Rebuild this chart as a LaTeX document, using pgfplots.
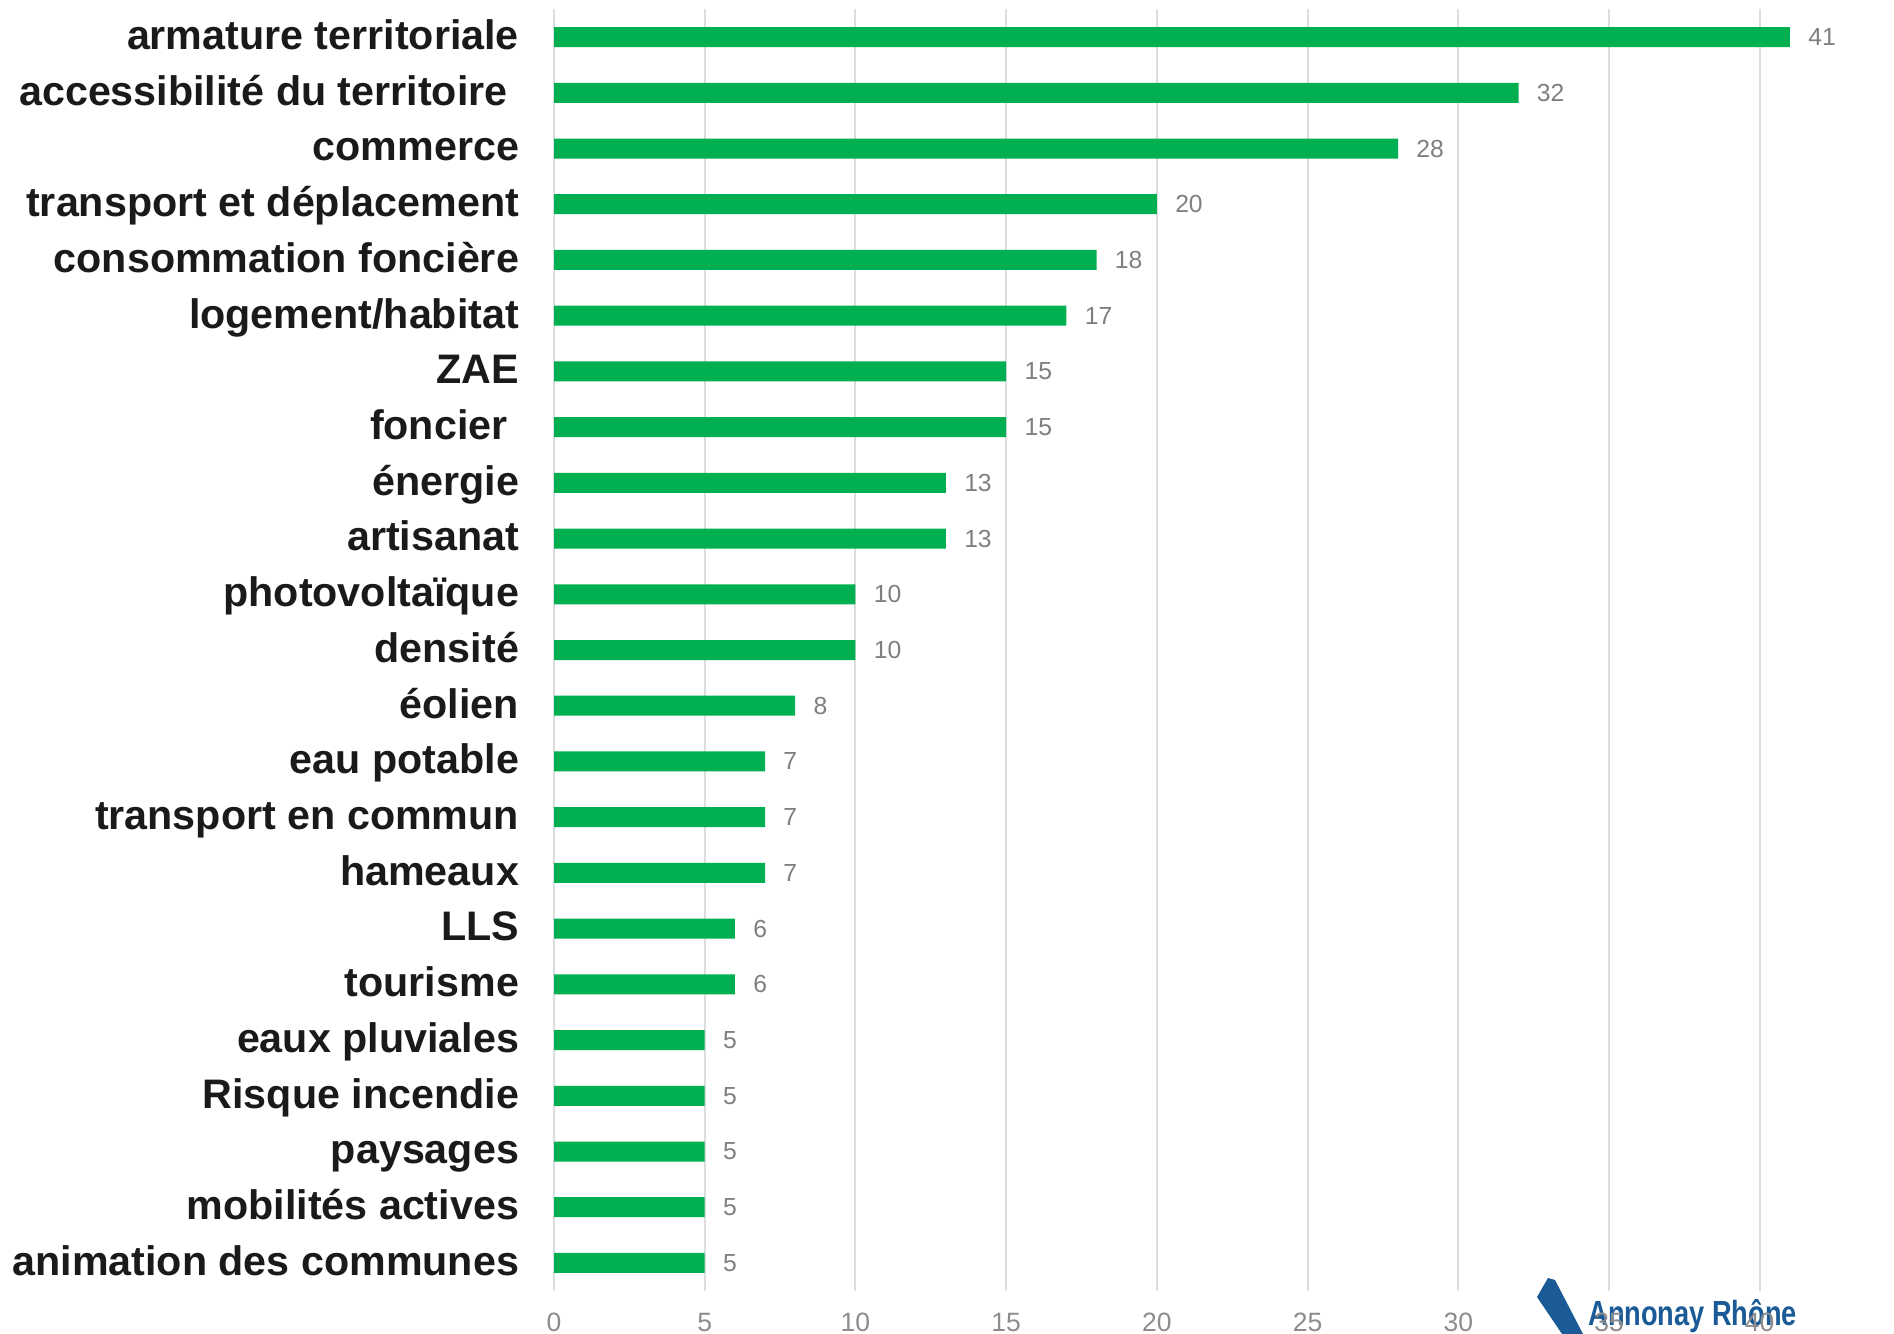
\documentclass[border=0pt]{standalone}
\usepackage{fontspec}
\setmainfont{Liberation Sans}
\usepackage{graphicx}
\usepackage{pgfplots}
\pgfplotsset{compat=1.18}
\usepackage{pgfplotstable}

\definecolor{bargreen}{HTML}{00B050}
\definecolor{labelblack}{HTML}{1A1A1A}
\definecolor{valgray}{HTML}{7F7F7F}
\definecolor{tickgray}{HTML}{8C8C8C}
\definecolor{gridgray}{HTML}{DDDDDD}
\definecolor{logoblue}{HTML}{1A5A96}

% rows from top to bottom
\pgfplotstableread[col sep=comma]{
idx,val
0,41
1,32
2,28
3,20
4,18
5,17
6,15
7,15
8,13
9,13
10,10
11,10
12,8
13,7
14,7
15,7
16,6
17,6
18,5
19,5
20,5
21,5
22,5
}\themes

\begin{document}
\begin{tikzpicture}
  % logo (behind the axis)
  \fill[logoblue] (774bp,28bp) -- (777.5bp,27bp) -- (791.5bp,0bp) -- (781bp,0bp) -- (768.5bp,18.5bp) -- cycle;
  \node[anchor=base west, inner sep=0pt, text=logoblue,
        font=\fontsize{17.5}{19}\selectfont\bfseries] at (794bp,4.5bp)
        {\scalebox{0.78}[1]{Annonay Rhône}};

  \begin{axis}[
    at={(277bp,21.6bp)}, anchor=south west,
    scale only axis,
    width=633bp, height=640.8bp,
    xmin=0, xmax=42,
    ymin=-0.5, ymax=22.5,
    y dir=reverse,
    xbar,
    bar width=10bp,
    axis line style={draw=none},
    major tick length=0pt,
    xmajorgrids=true,
    ymajorgrids=false,
    grid style={draw=gridgray, line width=1bp},
    xtick={0,5,...,40},
    ytick={0,...,22},
    yticklabels={
      armature territoriale,
      accessibilité du territoire\hspace*{0.278em},
      commerce,
      transport et déplacement,
      consommation foncière,
      logement/habitat,
      ZAE,
      foncier\hspace*{0.278em},
      énergie,
      artisanat,
      photovoltaïque,
      densité,
      éolien,
      eau potable,
      transport en commun,
      hameaux,
      LLS,
      tourisme,
      eaux pluviales,
      Risque incendie,
      paysages,
      mobilités actives,
      animation des communes},
    /pgf/number format/assume math mode=true,
    yticklabel style={anchor=east, inner sep=0pt, text=labelblack,
      text height=0.7em, text depth=0pt, yshift=-2.7bp,
      font=\fontsize{20.7}{24}\selectfont\bfseries},
    yticklabel shift=17.3bp,
    xticklabel style={anchor=north, inner sep=0pt, text=tickgray,
      font=\fontsize{13.3}{15}\selectfont},
    xticklabel shift=11.1bp,
    nodes near coords,
    every node near coord/.append style={anchor=west, inner sep=0pt,
      xshift=9bp, text=valgray, font=\fontsize{12.4}{14}\selectfont},
    clip=false,
  ]
    \addplot[fill=bargreen, draw=none] table[x=val, y=idx] {\themes};
  \end{axis}

  \pgfresetboundingbox
  \path[use as bounding box] (0,0) rectangle (947bp,667bp);
\end{tikzpicture}
\end{document}
